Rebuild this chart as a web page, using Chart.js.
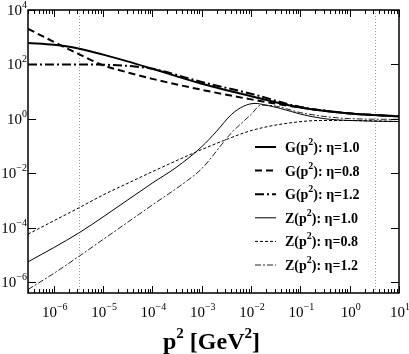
<!DOCTYPE html>
<html>
<head>
<meta charset="utf-8">
<script src="https://cdn.jsdelivr.net/npm/chart.js@4/dist/chart.umd.min.js"></script>
<style>
  html, body { margin: 0; padding: 0; background: #fff; }
  #wrap { width: 409px; height: 354px; }
</style>
</head>
<body>
<div id="wrap"><canvas id="c" width="409" height="354"></canvas></div>
<script>
// ── DATA ──────────────────────────────────────────────────────────────────────
const xMin = 3e-7, xMax = 10;
const yMin = 4e-7, yMax = 1e4;

const xTickExps = [-6, -5, -4, -3, -2, -1, 0, 1];
const yTickExps = [-6, -4, -2, 0, 2, 4];
const refLines  = [3.3e-6, 3.2];          // dotted verticals

const pG = [3e-7, 1e-6, 3.3e-6, 1e-5, 3e-5, 1e-4, 1e-3, 1e-2, 1e-1, 1, 10];
const G10 = [617, 525, 380, 229, 132, 69, 19.5, 6.8, 2.6, 1.58, 1.23];
const G08 = [2040, 676, 234, 93, 52, 29.5, 11.7, 5.2, 2.6, 1.58, 1.23];
const G12 = [100, 100, 100, 98, 89, 69, 22.6, 8.4, 2.75, 1.6, 1.25];

const pZ10 = [3e-7, 1e-6, 3.3e-6, 1e-5, 1e-4, 3e-4, 1e-3, 2e-3, 4e-3, 7e-3, 1.2e-2, 2e-2, 4e-2, 1e-1, 3e-1, 1, 10];
const Z10  = [5.6e-6, 1.86e-5, 6.6e-5, 2.5e-4, 4.4e-3, 0.0162, 0.095, 0.35, 1.45, 2.9, 3.7, 3.2, 2.4, 1.5, 1.02, 0.87, 0.8];

const pZ08 = [3e-7, 1e-6, 3.3e-6, 1e-5, 3.5e-5, 1e-4, 7.4e-4, 2.8e-3, 1e-2, 4.6e-2, 2.6e-1, 1, 10];
const Z08  = [5.8e-5, 1.8e-4, 5.5e-4, 1.6e-3, 4.7e-3, 0.0115, 0.059, 0.16, 0.37, 0.66, 0.87, 0.87, 0.8];

const pZ12 = [3e-7, 1e-6, 3.3e-6, 1e-5, 1e-4, 5.1e-4, 1e-3, 3.9e-3, 1e-2, 1.6e-2, 3.3e-2, 1e-1, 1, 10];
const Z12  = [5.4e-7, 2.1e-6, 9.1e-6, 3.7e-5, 6.9e-4, 5.4e-3, 0.0148, 0.29, 1.45, 3.2, 2.9, 1.7, 1.02, 0.96];

const SERIF = '"Liberation Serif", "Times New Roman", serif';

function pts(xs, ys) { return xs.map((x, i) => ({ x: x, y: ys[i] })); }

function series(label, xs, ys, width, dash, color) {
    return {
        label: label, data: pts(xs, ys),
        borderColor: color, borderWidth: width, borderDash: dash,
        pointRadius: 0, fill: false, cubicInterpolationMode: 'monotone'
    };
}

// ── RICH TEXT (superscripts) ─────────────────────────────────────────────────
function drawParts(ctx, parts, x, y, align) {
    let total = 0;
    parts.forEach(p => { ctx.font = p.font; p.w = ctx.measureText(p.t).width; total += p.w; });
    let cx = align === 'right' ? x - total : align === 'center' ? x - total / 2 : x;
    ctx.textBaseline = 'alphabetic';
    ctx.textAlign = 'left';
    parts.forEach(p => {
        ctx.font = p.font;
        ctx.fillText(p.t, cx, y + (p.dy || 0));
        cx += p.w;
    });
}

function powParts(exp, big, small) {
    return [
        { t: '10', font: big + 'px ' + SERIF },
        { t: String(exp).replace('-', '\u2212'), font: small + 'px ' + SERIF, dy: -7 }
    ];
}

// ── FRAME / TICKS / LABELS / LEGEND ──────────────────────────────────────────
const gracePlugin = {
    id: 'grace',
    beforeDatasetsDraw(chart) {
        const { ctx, chartArea: a, scales } = chart;
        ctx.save();
        ctx.strokeStyle = '#9a9a9a';
        ctx.lineWidth = 1;
        ctx.setLineDash([1, 2]);
        refLines.forEach(v => {
            const px = Math.round(scales.x.getPixelForValue(v)) + 0.5;
            ctx.beginPath(); ctx.moveTo(px, a.top); ctx.lineTo(px, a.bottom); ctx.stroke();
        });
        ctx.restore();
    },
    afterDatasetsDraw(chart) {
        const { ctx, chartArea: a, scales } = chart;
        ctx.save();
        ctx.strokeStyle = '#000';
        ctx.fillStyle = '#000';
        ctx.lineWidth = 1.5;
        ctx.strokeRect(a.left, a.top, a.right - a.left, a.bottom - a.top);

        // x ticks (inward, mirrored on top)
        ctx.lineWidth = 1;
        ctx.beginPath();
        for (let e = -7; e <= 1; e++) {
            for (let m = 1; m <= 9; m++) {
                const v = m * Math.pow(10, e);
                if (v < xMin || v > xMax) continue;
                const px = Math.round(scales.x.getPixelForValue(v)) + 0.5;
                const len = m === 1 ? 7 : 4;
                ctx.moveTo(px, a.bottom); ctx.lineTo(px, a.bottom - len);
                ctx.moveTo(px, a.top); ctx.lineTo(px, a.top + len);
            }
        }
        // y ticks
        yTickExps.forEach(e => {
            const py = Math.round(scales.y.getPixelForValue(Math.pow(10, e))) + 0.5;
            ctx.moveTo(a.left, py); ctx.lineTo(a.left + 8, py);
            ctx.moveTo(a.right, py); ctx.lineTo(a.right - 8, py);
        });
        ctx.stroke();

        // tick labels
        xTickExps.forEach(e => {
            const px = scales.x.getPixelForValue(Math.pow(10, e));
            drawParts(ctx, powParts(e, 15, 10), px + 1, a.bottom + 24, 'center');
        });
        yTickExps.forEach(e => {
            const py = scales.y.getPixelForValue(Math.pow(10, e));
            drawParts(ctx, powParts(e, 15, 10), a.left - 1, py + 5, 'right');
        });

        // axis title
        const tb = 'bold 24px ' + SERIF, ts = 'bold 15px ' + SERIF;
        drawParts(ctx, [
            { t: 'p', font: tb }, { t: '2', font: ts, dy: -11 },
            { t: ' [GeV', font: tb }, { t: '2', font: ts, dy: -11 }, { t: ']', font: tb }
        ], (a.left + a.right) / 2 - 2, 349, 'center');

        // legend
        const lf = 'bold 14px ' + SERIF, lsf = 'bold 10px ' + SERIF;
        chart.data.datasets.forEach((ds, i) => {
            const y = 147 + i * 23.6;
            ctx.save();
            ctx.strokeStyle = ds.borderColor;
            ctx.lineWidth = ds.borderWidth;
            ctx.setLineDash(ds.borderDash || []);
            ctx.beginPath(); ctx.moveTo(255, y); ctx.lineTo(276, y); ctx.stroke();
            ctx.restore();
            const bits = ds.label.split('^2');
            drawParts(ctx, [
                { t: bits[0], font: lf }, { t: '2', font: lsf, dy: -7 }, { t: bits[1], font: lf }
            ], 285, y + 5, 'left');
        });
        ctx.restore();
    }
};

// ── CHART ─────────────────────────────────────────────────────────────────────
new Chart(document.getElementById('c').getContext('2d'), {
    type: 'line',
    data: {
        datasets: [
            series('G(p^2): \u03b7=1.0', pG, G10, 2, [], '#000'),
            series('G(p^2): \u03b7=0.8', pG, G08, 2, [7, 4], '#000'),
            series('G(p^2): \u03b7=1.2', pG, G12, 2, [9, 3, 2, 3], '#000'),
            series('Z(p^2): \u03b7=1.0', pZ10, Z10, 1, [], '#000'),
            series('Z(p^2): \u03b7=0.8', pZ08, Z08, 1, [3, 2], '#000'),
            series('Z(p^2): \u03b7=1.2', pZ12, Z12, 1, [6, 2, 2, 2], '#222')
        ]
    },
    options: {
        responsive: false,
        animation: false,
        devicePixelRatio: 1,
        layout: { padding: { left: 28, top: 10, right: 10, bottom: 61 } },
        plugins: { legend: { display: false }, tooltip: { enabled: false } },
        scales: {
            x: { type: 'logarithmic', min: xMin, max: xMax, display: false },
            y: { type: 'logarithmic', min: yMin, max: yMax, display: false }
        }
    },
    plugins: [gracePlugin]
});
</script>
</body>
</html>
